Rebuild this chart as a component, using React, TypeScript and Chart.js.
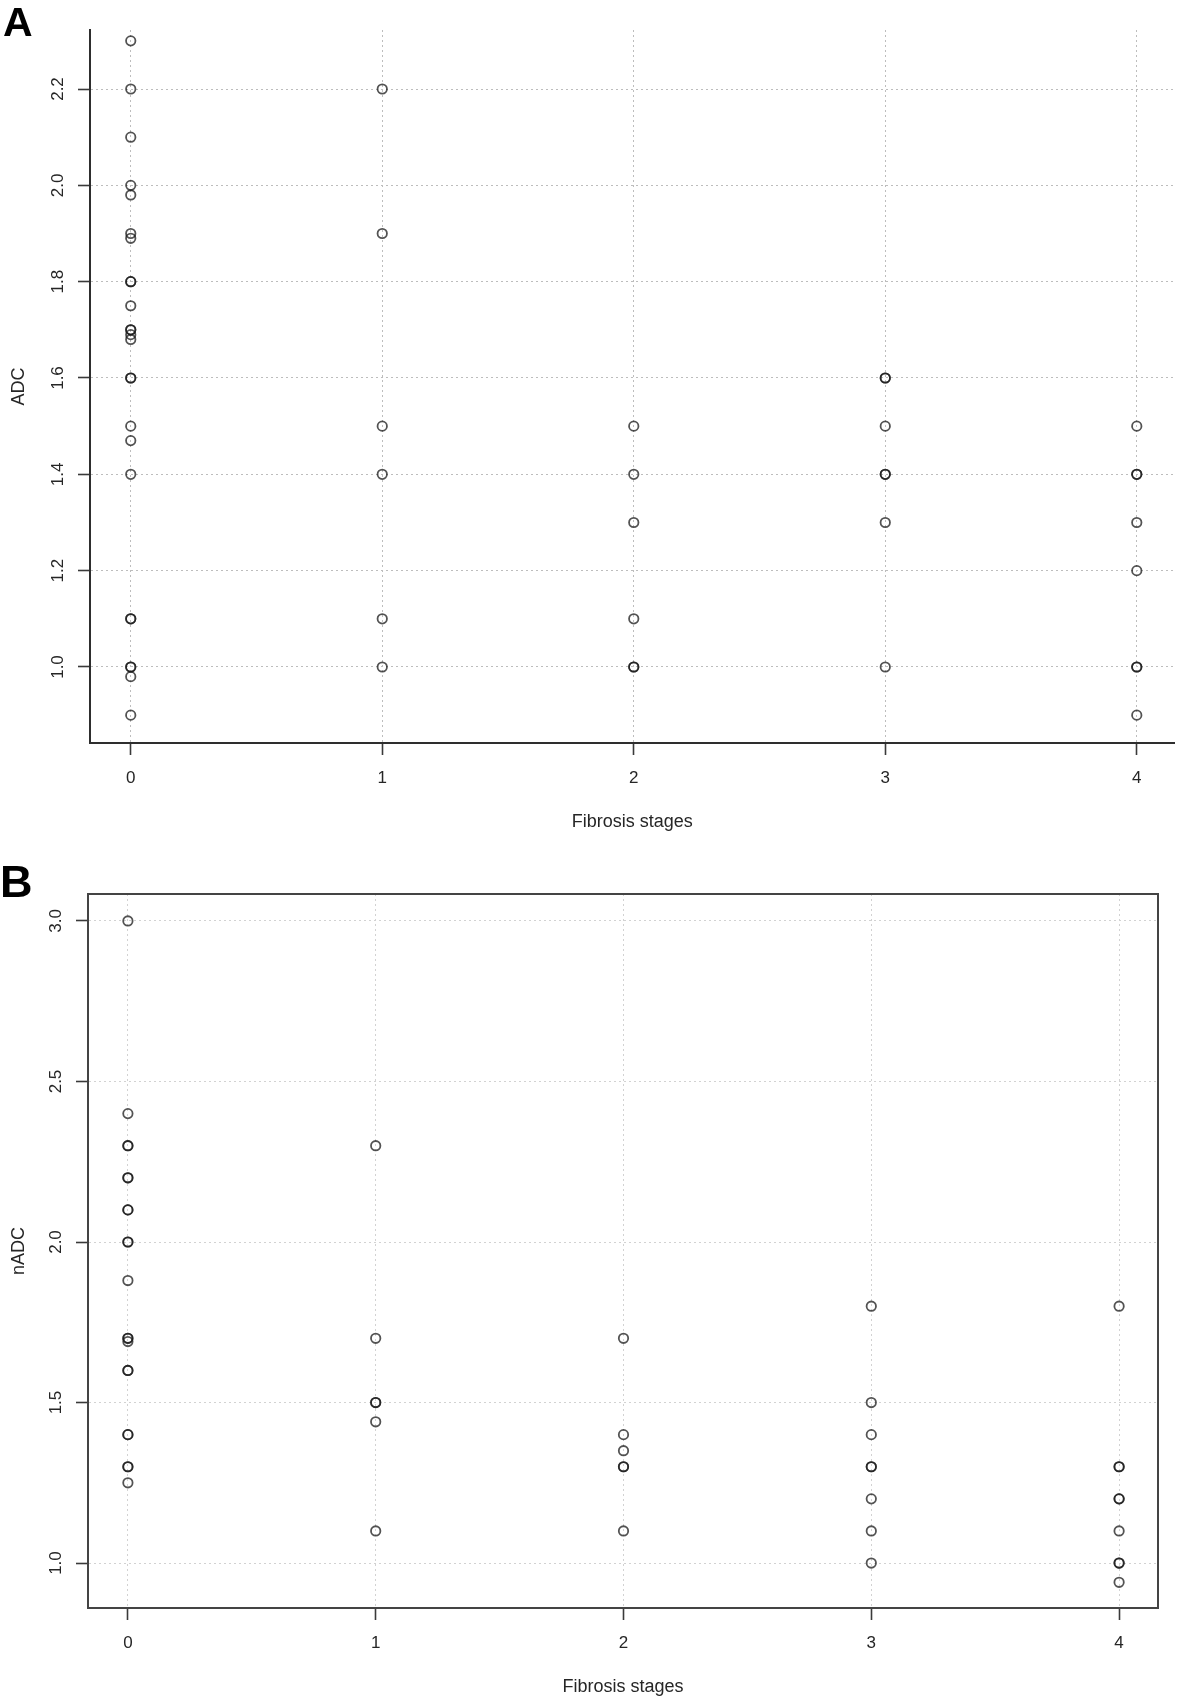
import React, { useEffect, useRef } from 'react';
import { Chart, registerables } from 'chart.js';
Chart.register(...registerables);

// ---------- data ----------
const stages = [0, 1, 2, 3, 4];
const xTickLabels = ['0', '1', '2', '3', '4'];
const xTitle = 'Fibrosis stages';

// Panel A: ADC per fibrosis stage (repeated values = overlapping points)
const adcStage0 = [2.3, 2.2, 2.1, 2.0, 1.98, 1.9, 1.89, 1.8, 1.8, 1.75, 1.7, 1.7, 1.69, 1.68, 1.6, 1.6, 1.5, 1.47, 1.4, 1.1, 1.1, 1.0, 1.0, 0.98, 0.9];
const adcStage1 = [2.2, 1.9, 1.5, 1.4, 1.1, 1.0];
const adcStage2 = [1.5, 1.4, 1.3, 1.1, 1.0, 1.0];
const adcStage3 = [1.6, 1.6, 1.5, 1.4, 1.4, 1.3, 1.0];
const adcStage4 = [1.5, 1.4, 1.4, 1.3, 1.2, 1.0, 1.0, 0.9];
const adcTicks = [1.0, 1.2, 1.4, 1.6, 1.8, 2.0, 2.2];
const adcTickLabels = ['1.0', '1.2', '1.4', '1.6', '1.8', '2.0', '2.2'];

// Panel B: nADC per fibrosis stage
const nadcStage0 = [3.0, 2.4, 2.3, 2.3, 2.2, 2.2, 2.1, 2.1, 2.0, 2.0, 1.88, 1.7, 1.7, 1.69, 1.6, 1.6, 1.4, 1.4, 1.3, 1.3, 1.25];
const nadcStage1 = [2.3, 1.7, 1.5, 1.5, 1.44, 1.1];
const nadcStage2 = [1.7, 1.4, 1.35, 1.3, 1.3, 1.1];
const nadcStage3 = [1.8, 1.5, 1.4, 1.3, 1.3, 1.2, 1.1, 1.0];
const nadcStage4 = [1.8, 1.3, 1.3, 1.2, 1.2, 1.1, 1.0, 1.0, 0.94];
const nadcTicks = [1.0, 1.5, 2.0, 2.5, 3.0];
const nadcTickLabels = ['1.0', '1.5', '2.0', '2.5', '3.0'];

const FONT = '"Liberation Sans", Arial, Helvetica, sans-serif';

function toPoints(groups: number[][]) {
  const pts: { x: number; y: number }[] = [];
  groups.forEach((g, i) => g.forEach((v) => pts.push({ x: stages[i], y: v })));
  return pts;
}

interface PanelCfg {
  width: number;
  height: number;
  padTop: number;
  padRight: number;
  yWidth: number;
  xHeight: number;
  xMin: number;
  xMax: number;
  yMin: number;
  yMax: number;
  yTicks: number[];
  yTickLabels: string[];
  yTitle: string;
  letter: string;
  letterSize: number;
  letterBaseline: number;
  letterX: number;
  fullBox: boolean;
  gridColor: string;
  axisColor: string;
  points: { x: number; y: number }[];
}

function makeChart(canvas: HTMLCanvasElement, c: PanelCfg) {
  const labelPlugin = {
    id: 'rLabels',
    afterDraw(chart: any) {
      const ctx = chart.ctx as CanvasRenderingContext2D;
      const area = chart.chartArea;
      const xs = chart.scales.x;
      const ys = chart.scales.y;
      ctx.save();
      if (c.fullBox) {
        ctx.strokeStyle = c.axisColor;
        ctx.lineWidth = 2;
        ctx.strokeRect(area.left, area.top, area.right - area.left, area.bottom - area.top);
      }
      ctx.fillStyle = '#262626';
      ctx.font = `17px ${FONT}`;
      ctx.textAlign = 'center';
      ctx.textBaseline = 'middle';
      // x tick labels
      stages.forEach((s, i) => {
        ctx.fillText(xTickLabels[i], xs.getPixelForValue(s), area.bottom + 35);
      });
      // y tick labels (rotated, as R las=0)
      c.yTicks.forEach((v, i) => {
        const y = ys.getPixelForValue(v);
        ctx.save();
        ctx.translate(area.left - 32, y);
        ctx.rotate(-Math.PI / 2);
        ctx.fillText(c.yTickLabels[i], 0, 0);
        ctx.restore();
      });
      // axis titles
      ctx.font = `18px ${FONT}`;
      ctx.fillText(xTitle, (area.left + area.right) / 2, area.bottom + 79);
      ctx.save();
      ctx.translate(19, (area.top + area.bottom) / 2);
      ctx.rotate(-Math.PI / 2);
      ctx.fillText(c.yTitle, 0, 0);
      ctx.restore();
      // panel letter
      ctx.fillStyle = '#000';
      ctx.font = `bold ${c.letterSize}px ${FONT}`;
      ctx.textAlign = 'left';
      ctx.textBaseline = 'alphabetic';
      ctx.fillText(c.letter, c.letterX, c.letterBaseline);
      ctx.restore();
    },
  };

  return new Chart(canvas, {
    type: 'scatter',
    data: {
      datasets: [
        {
          data: c.points,
          showLine: false,
          pointStyle: 'circle',
          pointRadius: 4.7,
          pointBorderWidth: 1.8,
          pointBackgroundColor: 'rgba(0,0,0,0)',
          pointBorderColor: 'rgba(25,25,25,0.75)',
        },
      ],
    },
    options: {
      responsive: false,
      animation: false,
      events: [],
      layout: { padding: { top: c.padTop, right: c.padRight, left: 0, bottom: 0 } },
      plugins: { legend: { display: false }, tooltip: { enabled: false }, title: { display: false } },
      scales: {
        x: {
          type: 'linear',
          position: 'bottom',
          min: c.xMin,
          max: c.xMax,
          afterBuildTicks: (s: any) => {
            s.ticks = stages.map((v) => ({ value: v }));
          },
          afterFit: (s: any) => {
            s.height = c.xHeight;
          },
          ticks: { display: false },
          grid: {
            color: c.gridColor,
            lineWidth: 1,
            drawTicks: true,
            tickLength: 12,
            tickColor: '#3a3a3a',
            tickWidth: 1.6,
            tickBorderDash: [],
          },
          border: { display: true, color: c.axisColor, width: 2, dash: [2, 3] },
        },
        y: {
          type: 'linear',
          position: 'left',
          min: c.yMin,
          max: c.yMax,
          afterBuildTicks: (s: any) => {
            s.ticks = c.yTicks.map((v) => ({ value: v }));
          },
          afterFit: (s: any) => {
            s.width = c.yWidth;
          },
          ticks: { display: false },
          grid: {
            color: c.gridColor,
            lineWidth: 1,
            drawTicks: true,
            tickLength: 12,
            tickColor: '#3a3a3a',
            tickWidth: 1.6,
            tickBorderDash: [],
          },
          border: { display: true, color: c.axisColor, width: 2, dash: [2, 3] },
        },
      },
    },
    plugins: [labelPlugin],
  } as any);
}

const panelA: PanelCfg = {
  width: 1181,
  height: 845,
  padTop: 30,
  padRight: 0,
  yWidth: 90,
  xHeight: 102,
  xMin: -0.162,
  xMax: 4.15,
  yMin: 0.8422,
  yMax: 2.3225,
  yTicks: adcTicks,
  yTickLabels: adcTickLabels,
  yTitle: 'ADC',
  letter: 'A',
  letterSize: 41,
  letterBaseline: 36,
  letterX: 3,
  fullBox: false,
  gridColor: '#bdbdbd',
  axisColor: '#2e2e2e',
  points: toPoints([adcStage0, adcStage1, adcStage2, adcStage3, adcStage4]),
};

const panelB: PanelCfg = {
  width: 1181,
  height: 855,
  padTop: 49,
  padRight: 23,
  yWidth: 88,
  xHeight: 92,
  xMin: -0.161,
  xMax: 4.157,
  yMin: 0.86,
  yMax: 3.084,
  yTicks: nadcTicks,
  yTickLabels: nadcTickLabels,
  yTitle: 'nADC',
  letter: 'B',
  letterSize: 45,
  letterBaseline: 52,
  letterX: 0,
  fullBox: true,
  gridColor: '#d2d2d2',
  axisColor: '#444444',
  points: toPoints([nadcStage0, nadcStage1, nadcStage2, nadcStage3, nadcStage4]),
};

function Panel({ cfg, top }: { cfg: PanelCfg; top: number }) {
  const ref = useRef<HTMLCanvasElement | null>(null);
  useEffect(() => {
    if (!ref.current) return;
    const chart = makeChart(ref.current, cfg);
    return () => chart.destroy();
  }, [cfg]);
  return (
    <canvas
      ref={ref}
      width={cfg.width}
      height={cfg.height}
      style={{ position: 'absolute', left: 0, top, width: cfg.width, height: cfg.height, display: 'block' }}
    />
  );
}

export default function App() {
  return (
    <div style={{ position: 'absolute', left: 0, top: 0, width: 1181, height: 1700, background: '#ffffff', overflow: 'hidden' }}>
      <Panel cfg={panelA} top={0} />
      <Panel cfg={panelB} top={845} />
    </div>
  );
}
